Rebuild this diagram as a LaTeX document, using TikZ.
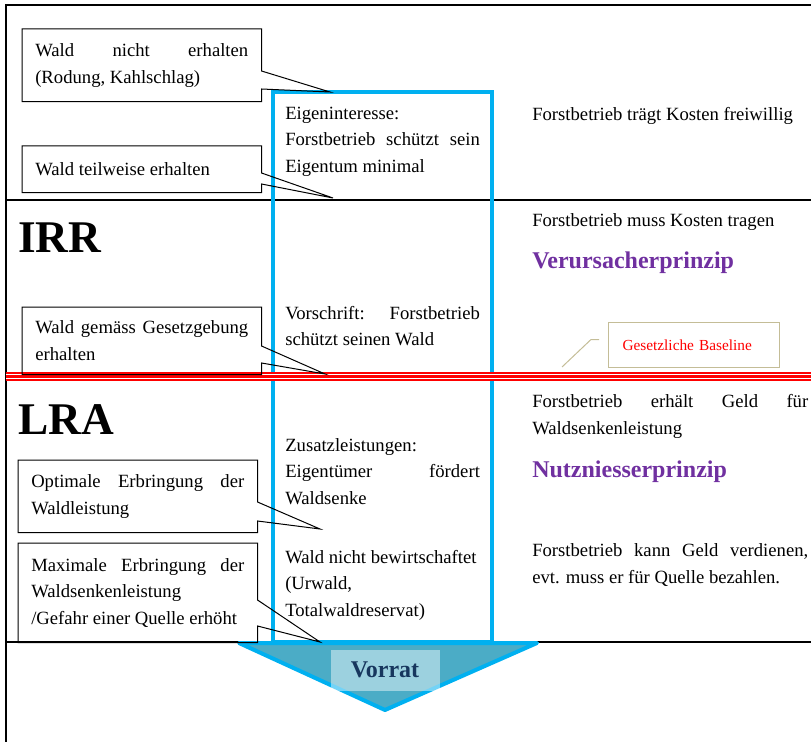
\documentclass[tikz,border=0pt]{standalone}
\usepackage{fontspec}
\setmainfont{Liberation Serif}
\usetikzlibrary{calc}
\definecolor{frameblue}{HTML}{00B0F0}
\definecolor{arrowteal}{HTML}{4BACC6}
\definecolor{prinzipcol}{HTML}{7030A0}
\definecolor{notetan}{HTML}{C4BD97}
\definecolor{vorratcol}{HTML}{17375E}
\hyphenpenalty=10000
\tikzset{
  sepline/.style={line width=0.8pt},
  callbox/.style={
    anchor=north west, inner xsep=9.75pt, inner ysep=0pt,
    text width=159.75pt, align=justify,
    font=\fontsize{14}{20}\selectfont
  },
  callline/.style={line width=0.75pt},
  midtext/.style={
    anchor=base west, inner sep=0pt, text width=146pt, align=justify,
    font=\fontsize{14}{20}\selectfont
  },
  sidetext/.style={
    anchor=base west, inner sep=0pt, text width=207pt, align=justify,
    font=\fontsize{14}{20.5}\selectfont
  },
  prinzip/.style={
    anchor=base west, inner sep=0pt, text=prinzipcol,
    font=\fontsize{18}{22}\selectfont\bfseries
  },
  bigtag/.style={
    anchor=base west, inner sep=0pt,
    font=\fontsize{34}{40}\selectfont\bfseries
  }
}

\begin{document}
\begin{tikzpicture}[x=0.75pt,y=-0.75pt]
  \useasboundingbox (0,0) rectangle (811,742);

  % frame and separators
  \draw[line width=1.5pt] (6,742) -- (6,5) -- (811,5);
  \draw[sepline] (6,200) -- (811,200);
  \draw[sepline] (6,642) -- (811,642);

  % blue column with arrow
  \draw[line width=3pt, frameblue] (273,92) rectangle (492,642);
  \draw[line width=3pt, frameblue, fill=arrowteal, line join=round]
    (239,643) -- (537,643) -- (385,710) -- cycle;
  \node[fill=white, fill opacity=0.45, text opacity=1, text=vorratcol,
    minimum width=81.75pt, minimum height=30.75pt,
    font=\fontsize{18}{22}\selectfont\bfseries] (vorrat) at (385,670) {Vorrat};

  % baseline
  \fill[red] (6,372) rectangle (811,381);
  \draw[white, line width=0.8pt] (6,374.6) -- (811,374.6);
  \draw[white, line width=0.8pt] (6,378.4) -- (811,378.4);

  % callouts
  \coordinate (tipA) at (330,92);
  \coordinate (tipB) at (333,198);
  \coordinate (tipC) at (325,374);
  \coordinate (tipD) at (320,529);
  \coordinate (tipE) at (320,642);

  \node[callbox, minimum height=54pt] (nichterh) at (22,29)
    {Wald nicht erhalten (Rodung, Kahlschlag)};
  \draw[callline] (nichterh.north west) -- (nichterh.north east)
    -- ($(nichterh.north east)+(0,42)$) -- (tipA)
    -- ($(nichterh.north east)+(0,60)$) -- (nichterh.south east)
    -- (nichterh.south west) -- cycle;

  \node[callbox, minimum height=34.5pt] (teilerh) at (22,146)
    {Wald teilweise erhalten};
  \draw[callline] (teilerh.north west) -- (teilerh.north east)
    -- ($(teilerh.north east)+(0,27)$) -- (tipB)
    -- ($(teilerh.north east)+(0,38)$) -- (teilerh.south east)
    -- (teilerh.south west) -- cycle;

  \node[callbox, minimum height=50.25pt] (gesetz) at (22,307)
    {Wald gemäss Gesetzgebung erhalten};
  \draw[callline] (gesetz.north west) -- (gesetz.north east)
    -- ($(gesetz.north east)+(0,39)$) -- (tipC)
    -- ($(gesetz.north east)+(0,56)$) -- (gesetz.south east)
    -- (gesetz.south west) -- cycle;

  \node[callbox, minimum height=54pt] (optimal) at (18,460)
    {Optimale Erbringung der Waldleistung};
  \draw[callline] (optimal.north west) -- (optimal.north east)
    -- ($(optimal.north east)+(0,42)$) -- (tipD)
    -- ($(optimal.north east)+(0,61)$) -- (optimal.south east)
    -- (optimal.south west) -- cycle;

  \node[callbox, minimum height=74.25pt] (maximal) at (18,543)
    {Maximale Erbringung der Waldsenkenleistung\\ /Gefahr einer Quelle erhöht};
  \draw[callline] (maximal.north west) -- (maximal.north east)
    -- ($(maximal.north east)+(0,57)$) -- (tipE)
    -- ($(maximal.north east)+(0,83)$) -- (maximal.south east)
    -- (maximal.south west) -- cycle;

  % baseline note
  \node[anchor=north west, draw=notetan, line width=0.75pt, text=red,
    inner xsep=10.5pt, text width=107.25pt, minimum height=33.75pt,
    font=\fontsize{11.5}{14}\selectfont] (gesbase) at (608,322)
    {Gesetzliche Baseline};
  \coordinate (basetip) at (562,367);
  \draw[notetan, line width=0.75pt] (gesbase.west) ++(-9,-5.5) -- ++(-8,0) -- (basetip);

  % level tags
  \node[bigtag] (irr) at (18,252) {IRR};
  \node[bigtag] (lra) at (18,434) {LRA};

  % column texts
  \node[midtext] (eigen) at (285,119)
    {Eigeninteresse:\\ Forstbetrieb schützt sein Eigentum minimal};
  \node[midtext] (vorschrift) at (285,319)
    {Vorschrift: Forstbetrieb schützt seinen Wald};
  \node[midtext] (zusatz) at (285,451)
    {Zusatzleistungen: Eigentümer fördert Waldsenke};
  \node[midtext] (urwald) at (285,563)
    {Wald nicht bewirtschaftet\\ (Urwald,\\ Totalwaldreservat)};

  \node[sidetext] (freiw) at (532,121) {Forstbetrieb trägt Kosten freiwillig};
  \node[sidetext] (mussk) at (532,226) {Forstbetrieb muss Kosten tragen};
  \node[prinzip] (verurs) at (532,268) {Verursacherprinzip};
  \node[sidetext] (erhaelt) at (532,407)
    {Forstbetrieb erhält Geld für Waldsenkenleistung};
  \node[prinzip] (nutzn) at (532,477) {Nutzniesserprinzip};
  \node[sidetext] (verdien) at (532,556)
    {Forstbetrieb kann Geld verdienen, evt. muss er für Quelle bezahlen.};
\end{tikzpicture}
\end{document}
